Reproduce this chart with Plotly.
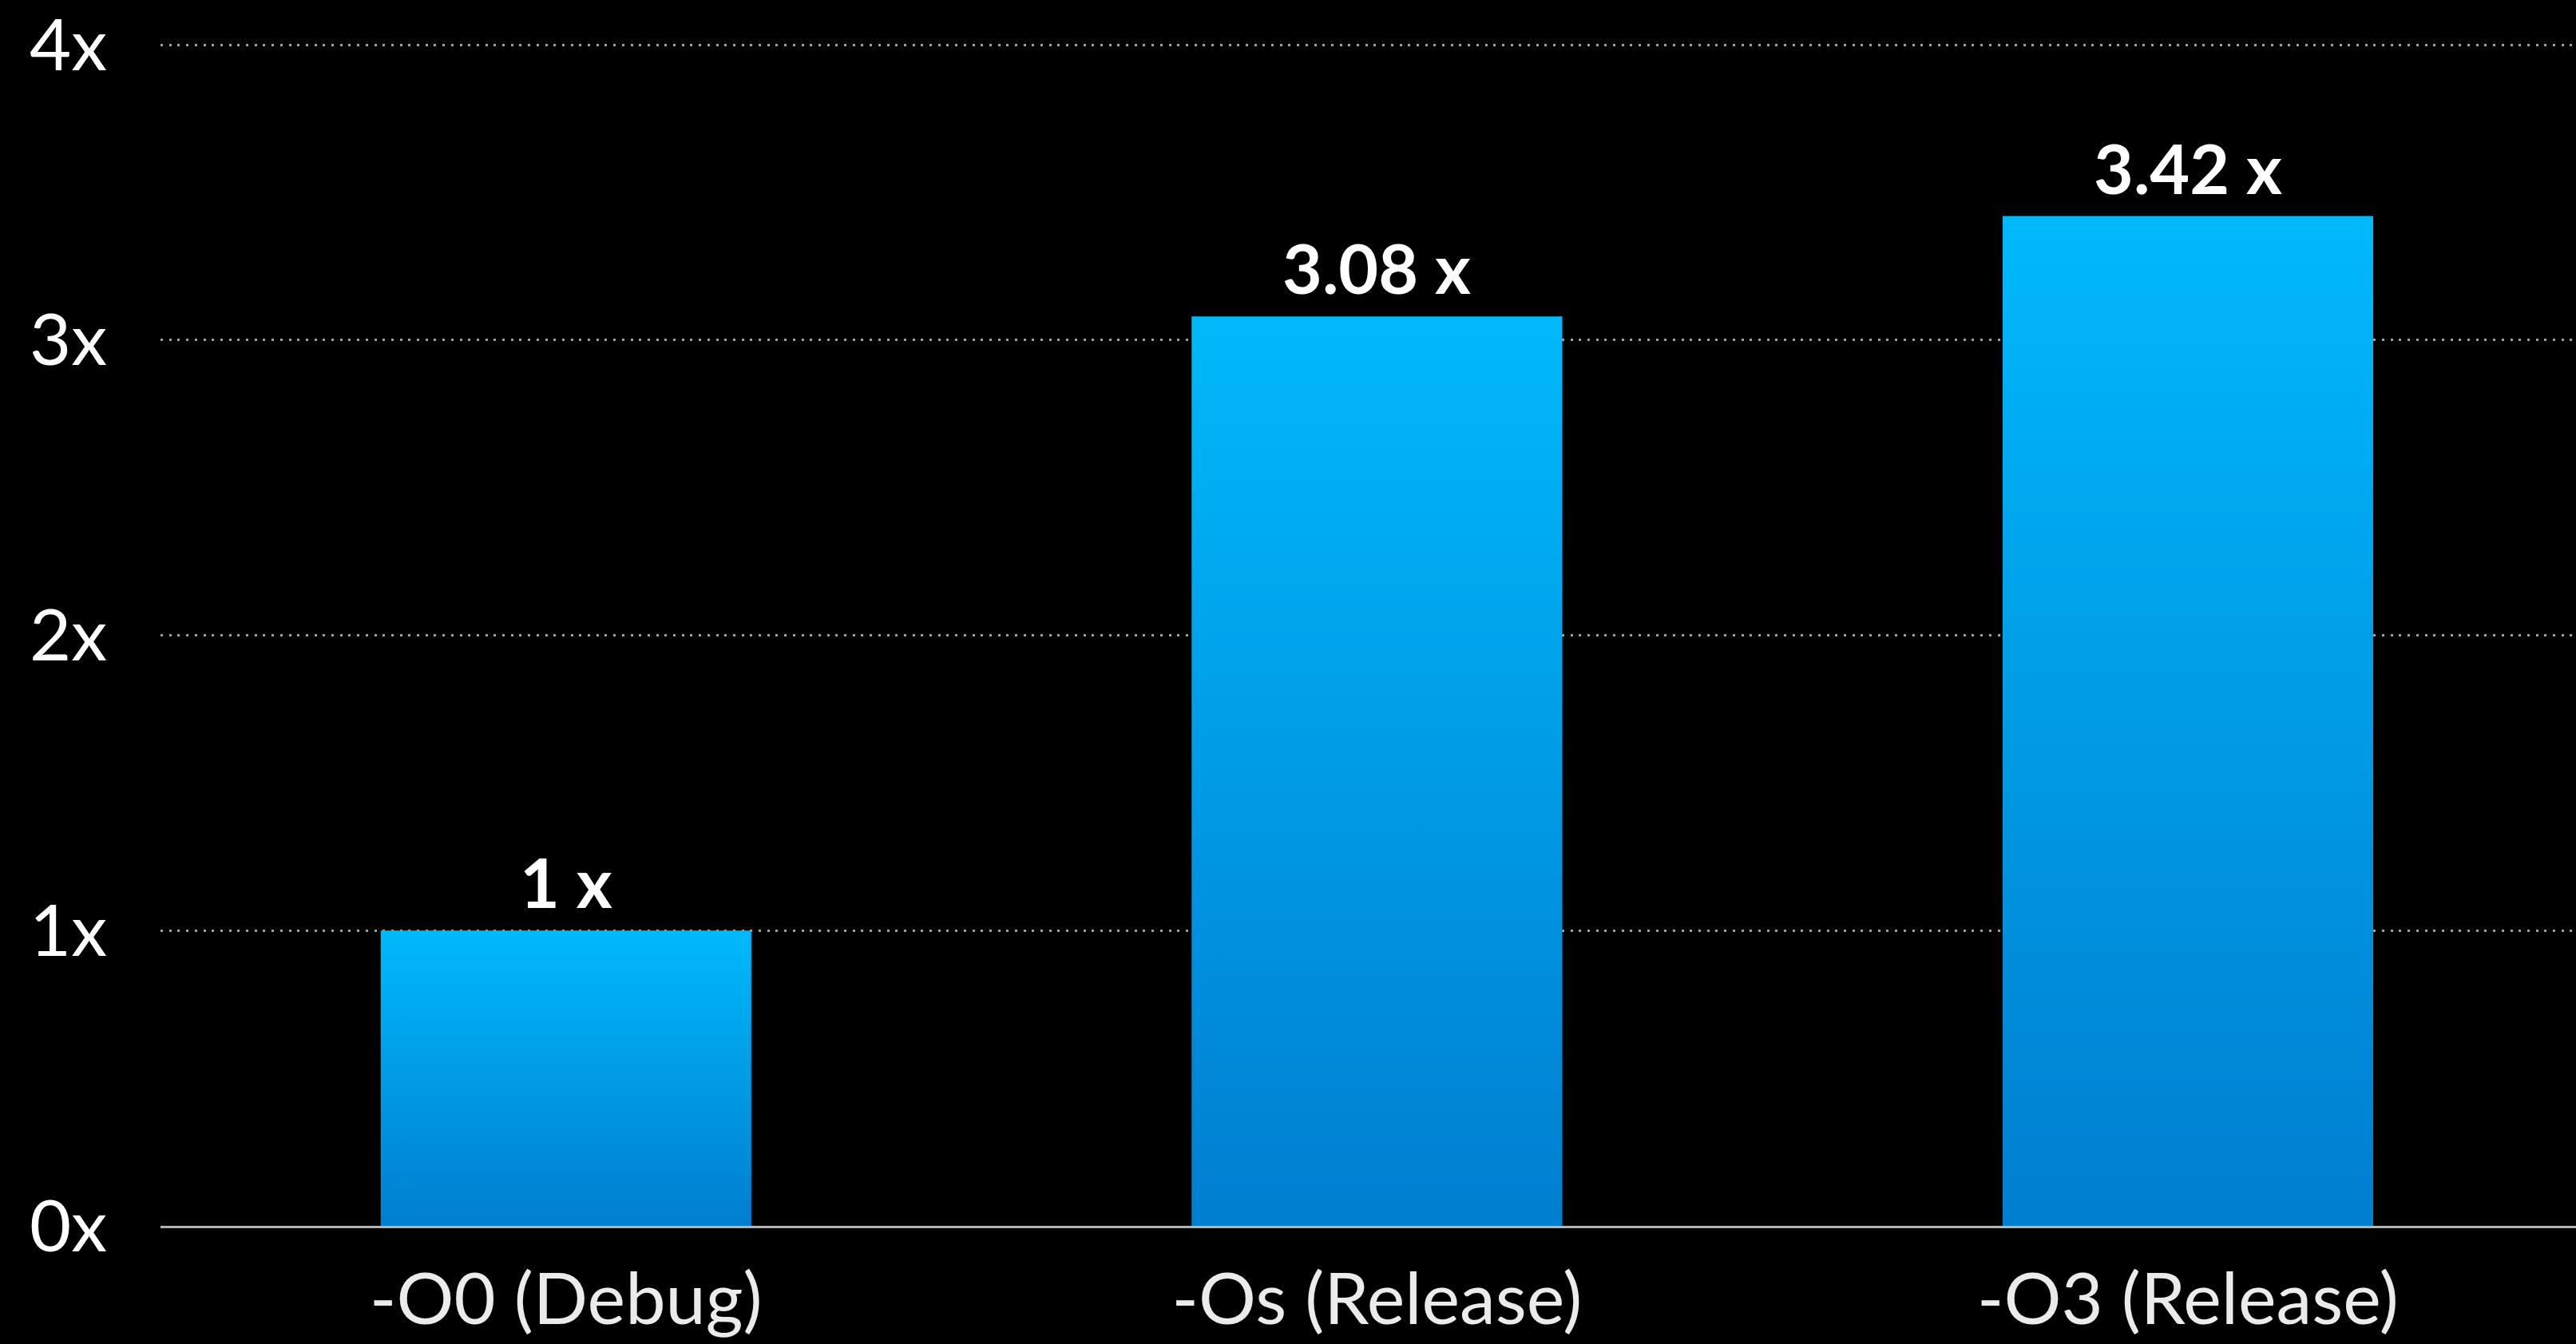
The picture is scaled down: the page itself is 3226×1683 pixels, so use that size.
import plotly.graph_objects as go

# Speed-up relative to the unoptimised debug build
categories = ["-O0 (Debug)", "-Os (Release)", "-O3 (Release)"]
speedups = [1.0, 3.08, 3.42]
y_tick_values = [0, 1, 2, 3, 4]
y_tick_labels = ["0x", "1x", "2x", "3x", "4x"]

BAR_TOP = "#00b9fb"
BAR_BOTTOM = "#007ed0"
BAR_HALF_WIDTH = 0.2285
FONT = "Lato"

fig = go.Figure()

for i, (cat, v) in enumerate(zip(categories, speedups)):
    x0, x1 = i - BAR_HALF_WIDTH, i + BAR_HALF_WIDTH
    fig.add_trace(go.Scatter(
        x=[x0, x1, x1, x0, x0],
        y=[0, 0, v, v, 0],
        mode="lines",
        line=dict(width=0),
        fill="toself",
        fillgradient=dict(
            type="vertical",
            start=0,
            stop=v,
            colorscale=[[0, BAR_BOTTOM], [1, BAR_TOP]],
        ),
        hoverinfo="skip",
        showlegend=False,
        name=cat,
    ))
    fig.add_annotation(
        x=i, y=v, xref="x", yref="y",
        text=f"{v:g} x",
        showarrow=False,
        yanchor="bottom",
        yshift=8,
        font=dict(family=FONT, size=86, color="white", weight="bold"),
    )

fig.update_layout(
    width=3226,
    height=1683,
    paper_bgcolor="black",
    plot_bgcolor="black",
    margin=dict(l=201, r=0, t=0, b=148, autoexpand=False),
    showlegend=False,
    xaxis=dict(
        range=[-0.5, 2.4786],
        tickmode="array",
        tickvals=list(range(len(categories))),
        ticktext=categories,
        showgrid=False,
        zeroline=False,
        showline=True,
        linecolor="#b4b4b4",
        linewidth=3,
        layer="above traces",
        ticks="",
        ticklabelstandoff=12,
        ticklabeloverflow="allow",
        tickfont=dict(family=FONT, size=90, color="#ebebeb"),
        automargin=False,
        fixedrange=True,
    ),
    yaxis=dict(
        range=[0, 4.152],
        tickmode="array",
        tickvals=y_tick_values,
        ticktext=y_tick_labels,
        showgrid=True,
        gridcolor="#a0a0a0",
        gridwidth=3,
        griddash="3px,7.7px",
        zeroline=False,
        showline=False,
        ticks="",
        ticklabelstandoff=66,
        ticklabeloverflow="allow",
        tickfont=dict(family=FONT, size=90, color="white"),
        automargin=False,
        fixedrange=True,
    ),
)

fig.write_html("out.html")
